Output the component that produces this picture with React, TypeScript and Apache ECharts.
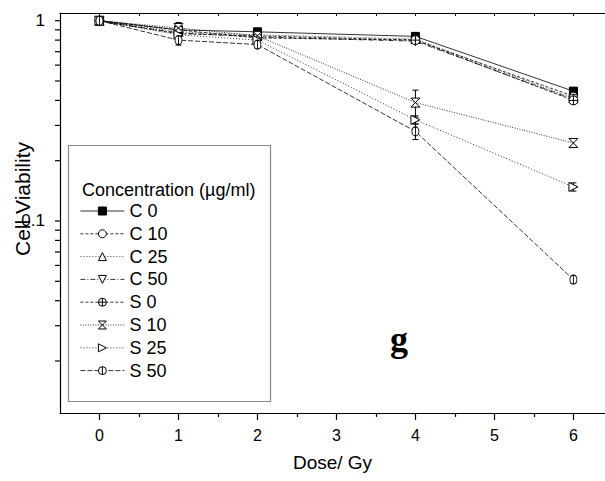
import React, { useEffect, useRef } from "react";
import * as echarts from "echarts";

// ---------- data ----------
const doses = [0, 1, 2, 4, 6];
const seriesNames = ["C 0", "C 10", "C 25", "C 50", "S 0", "S 10", "S 25", "S 50"];
const c0 = [1.0, 0.9, 0.88, 0.835, 0.445];
const c10 = [1.0, 0.86, 0.84, 0.8, 0.42];
const c25 = [1.0, 0.88, 0.85, 0.81, 0.41];
const c50 = [0.99, 0.87, 0.83, 0.79, 0.405];
const s0 = [1.0, 0.9, 0.82, 0.8, 0.4];
const s10 = [1.0, 0.92, 0.84, 0.39, 0.245];
const s25 = [1.0, 0.85, 0.8, 0.32, 0.148];
const s50 = [1.0, 0.8, 0.76, 0.28, 0.051];
const errC0 = [0.02, 0.02, 0.02, 0.02, 0.015];
const errC10 = [0.02, 0.03, 0.02, 0.02, 0.015];
const errC25 = [0.02, 0.02, 0.02, 0.02, 0.015];
const errC50 = [0.02, 0.02, 0.02, 0.02, 0.015];
const errS0 = [0.02, 0.03, 0.02, 0.02, 0.015];
const errS10 = [0.03, 0.06, 0.03, 0.06, 0.008];
const errS25 = [0.02, 0.03, 0.02, 0.015, 0.007];
const errS50 = [0.02, 0.045, 0.03, 0.025, 0.002];
const xMajorTicks = [0, 1, 2, 3, 4, 5, 6];
const xMinorTicks = [0.5, 1.5, 2.5, 3.5, 4.5, 5.5];
const xTopTicks = [0, 0.5, 1, 1.5, 2, 2.5, 3, 3.5, 4, 4.5, 5, 5.5, 6];
const yTickValues = [0.02, 0.03, 0.04, 0.05, 0.06, 0.07, 0.08, 0.09, 0.1, 0.2, 0.3, 0.4, 0.5, 0.6, 0.7, 0.8, 0.9, 1];
const xTitle = "Dose/ Gy";
const yTitle = "Cell Viability";
const legendTitle = "Concentration (µg/ml)";
const panelLetter = "g";

const X_MIN = -0.5;
const X_MAX = 6.4;
const Y_MIN = 0.011;
const Y_MAX = 1.0926;

const allValues = [c0, c10, c25, c50, s0, s10, s25, s50];
const allErrors = [errC0, errC10, errC25, errC50, errS0, errS10, errS25, errS50];

const symbols = [
  "rect",
  "circle",
  "triangle",
  "path://M0,0L20,0L10,18Z",
  "path://M10,0A10,10,0,1,1,10,20A10,10,0,1,1,10,0ZM0,10L20,10M10,0L10,20",
  "path://M0,0L20,0L0,20L20,20Z",
  "path://M0,0L18,10L0,20Z",
  "path://M10,0A10,10,0,1,1,10,20A10,10,0,1,1,10,0ZM10,0L10,20",
];
const symbolSizes: any[] = [8, 8, 9, 9, 9, 9, 9, [7, 9]];
const dashes: any[] = [
  "solid",
  [3, 2],
  [1, 2],
  [5, 2, 1, 2],
  [3, 2],
  [1, 1.5],
  [1, 2],
  [5, 2],
];

const FONT = "'Liberation Sans', Arial, sans-serif";

export default function App() {
  const ref = useRef<HTMLDivElement>(null);
  useEffect(() => {
    if (!ref.current) return;
    const chart = echarts.init(ref.current, undefined, { renderer: "svg" });

    const lineSeries = seriesNames.map((name, i) => ({
      name,
      type: "line",
      data: doses.map((d, j) => [d, allValues[i][j]]),
      symbol: symbols[i],
      symbolSize: symbolSizes[i],
      lineStyle: { color: "#000", width: 0.8, type: dashes[i] },
      itemStyle:
        i === 0
          ? { color: "#000", borderColor: "#000", borderWidth: 1 }
          : { color: "#fff", borderColor: "#000", borderWidth: 1 },
      z: 3 + i,
    }));

    const errData: any[] = [];
    allValues.forEach((vals, i) => {
      vals.forEach((v, j) => {
        const e = allErrors[i][j];
        errData.push([doses[j], v - e, v + e]);
      });
    });

    const option: any = {
      animation: false,
      backgroundColor: "#fff",
      grid: { left: 60, top: 13, right: 0, bottom: 68, containLabel: false },
      xAxis: [
        {
          type: "value",
          min: X_MIN,
          max: X_MAX,
          position: "bottom",
          axisLine: { show: true, onZero: false, lineStyle: { color: "#000", width: 1.2 } },
          axisTick: { show: true, length: 7, customValues: xMajorTicks, lineStyle: { color: "#000", width: 1.2 } },
          axisLabel: { customValues: xMajorTicks, color: "#000", fontSize: 16, fontFamily: FONT, margin: 14 },
          splitLine: { show: false },
          name: xTitle,
          nameLocation: "middle",
          nameGap: 40,
          nameTextStyle: { color: "#000", fontSize: 19, fontFamily: FONT },
        },
        {
          type: "value",
          min: X_MIN,
          max: X_MAX,
          position: "top",
          axisLine: { show: true, onZero: false, lineStyle: { color: "#000", width: 1.2 } },
          axisTick: { show: true, inside: true, length: 3, customValues: xTopTicks, lineStyle: { color: "#000" } },
          axisLabel: { show: false },
          splitLine: { show: false },
        },
        {
          type: "value",
          min: X_MIN,
          max: X_MAX,
          position: "bottom",
          axisLine: { show: false, onZero: false },
          axisTick: { show: true, length: 4, customValues: xMinorTicks, lineStyle: { color: "#000", width: 1.2 } },
          axisLabel: { show: false },
          splitLine: { show: false },
        },
      ],
      yAxis: {
        type: "log",
        logBase: 10,
        min: Y_MIN,
        max: Y_MAX,
        axisLine: { show: true, onZero: false, lineStyle: { color: "#000", width: 1.2 } },
        axisTick: { show: false },
        axisLabel: {
          color: "#000",
          fontSize: 17,
          fontFamily: FONT,
          margin: 15,
          formatter: (v: number) => {
            const l = Math.log10(v);
            if (Math.abs(l - Math.round(l)) > 1e-6) return "";
            if (Math.abs(v - 1) < 1e-6) return "1";
            if (Math.abs(v - 0.1) < 1e-6) return "0.1";
            return "";
          },
        },
        splitLine: { show: false },
        minorTick: { show: false },
      },
      legend: {
        data: seriesNames,
        orient: "vertical",
        left: 80,
        top: 202,
        itemWidth: 44,
        itemHeight: 10,
        itemGap: 4.8,
        padding: 0,
        selectedMode: false,
        lineStyle: { width: 0.8 },
        itemStyle: { borderWidth: 1 },
        textStyle: { color: "#000", fontSize: 18, fontFamily: FONT, lineHeight: 17 },
      },
      graphic: [
        {
          type: "rect",
          shape: { x: 68.5, y: 145.5, width: 202, height: 256 },
          style: { fill: "none", stroke: "#888", lineWidth: 1.2 },
          z: 1,
        },
        {
          type: "text",
          x: 82,
          y: 190,
          style: { text: legendTitle, fill: "#000", fontSize: 18, fontFamily: FONT, align: "left", verticalAlign: "middle", textAlign: "left", textVerticalAlign: "middle" },
        },
        {
          type: "text",
          x: 22,
          y: 199,
          rotation: Math.PI / 2,
          style: { text: yTitle, fill: "#000", fontSize: 21, fontFamily: FONT, align: "center", verticalAlign: "middle", textAlign: "center", textVerticalAlign: "middle" },
        },
        {
          type: "text",
          x: 399,
          y: 339,
          style: { text: panelLetter, fill: "#000", fontSize: 36, fontWeight: "bold", fontFamily: "'Liberation Serif', 'Times New Roman', serif", align: "center", verticalAlign: "middle", textAlign: "center", textVerticalAlign: "middle" },
        },
      ],
      series: [
        ...lineSeries,
        {
          type: "custom",
          name: "errors",
          clip: false,
          z: 2,
          data: errData,
          encode: { x: 0, y: [1, 2] },
          renderItem: (params: any, api: any) => {
            const x = api.value(0);
            const lo = api.coord([x, api.value(1)]);
            const hi = api.coord([x, api.value(2)]);
            const w = 3;
            const st = { stroke: "#000", lineWidth: 1 };
            return {
              type: "group",
              children: [
                { type: "line", shape: { x1: lo[0], y1: lo[1], x2: hi[0], y2: hi[1] }, style: st },
                { type: "line", shape: { x1: hi[0] - w, y1: hi[1], x2: hi[0] + w, y2: hi[1] }, style: st },
                { type: "line", shape: { x1: lo[0] - w, y1: lo[1], x2: lo[0] + w, y2: lo[1] }, style: st },
              ],
            };
          },
        },
        {
          type: "custom",
          name: "yticks",
          clip: false,
          z: 2,
          data: yTickValues.map((v) => [X_MIN, v]),
          encode: { x: 0, y: 1 },
          renderItem: (params: any, api: any) => {
            const p = api.coord([api.value(0), api.value(1)]);
            return {
              type: "line",
              shape: { x1: p[0] - 5, y1: p[1], x2: p[0], y2: p[1] },
              style: { stroke: "#000", lineWidth: 1.2 },
            };
          },
        },
      ],
    };
    chart.setOption(option);
    return () => chart.dispose();
  }, []);
  return <div ref={ref} style={{ width: 605, height: 481, position: "absolute", left: 0, top: 0 }} />;
}
